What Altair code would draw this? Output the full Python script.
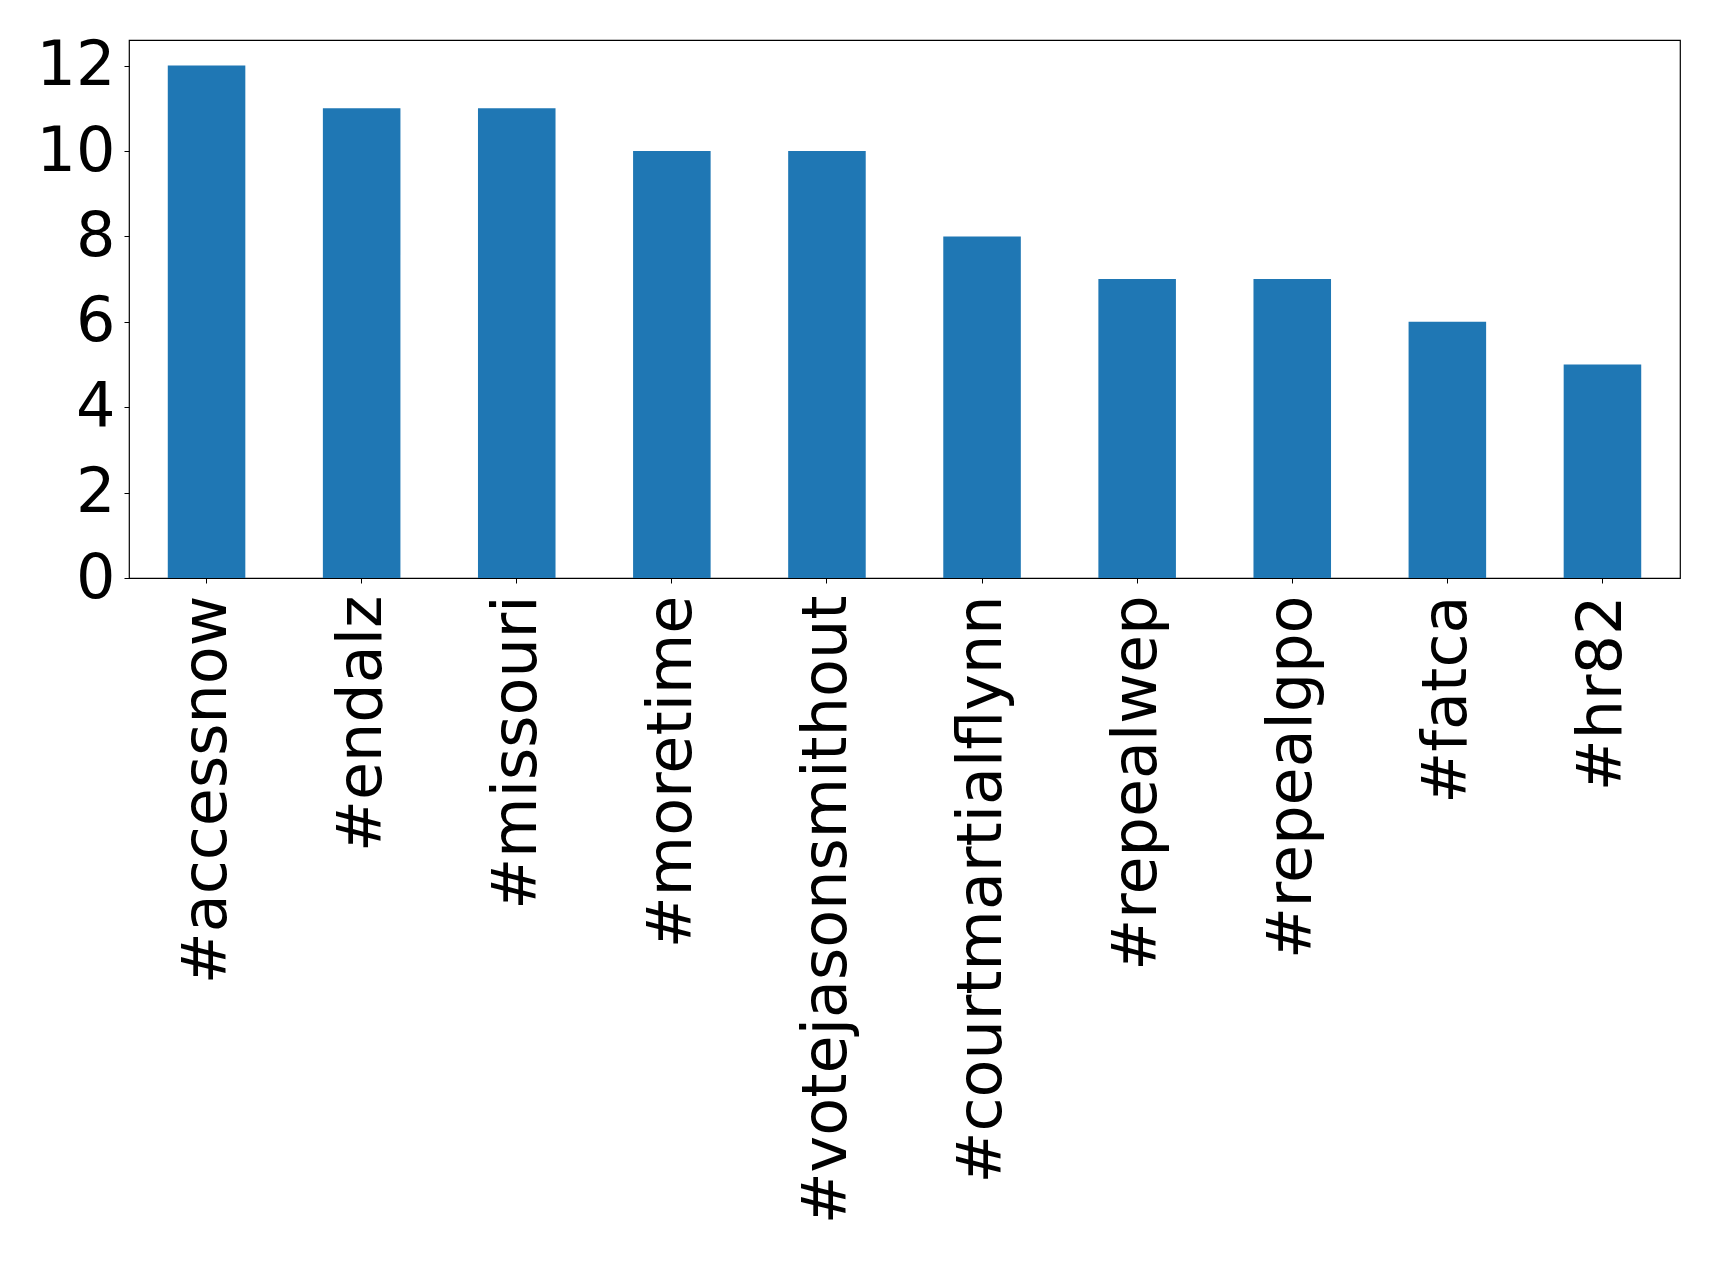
import altair as alt
import pandas as pd

hashtags = ["#accessnow", "#endalz", "#missouri", "#moretime", "#votejasonsmithout",
            "#courtmartialflynn", "#repealwep", "#repealgpo", "#fatca", "#hr82"]
counts = [12, 11, 11, 10, 10, 8, 7, 7, 6, 5]
y_ticks = [0, 2, 4, 6, 8, 10, 12]

df = pd.DataFrame({"tag": hashtags, "count": counts})

chart = alt.Chart(df).mark_bar(color="#1f77b4").encode(
    x=alt.X("tag:N", sort=None, title=None,
            scale=alt.Scale(paddingInner=0.5, paddingOuter=0.25),
            axis=alt.Axis(labelAngle=-90, labelAlign="right", labelBaseline="middle",
                          labelFontSize=62, labelPadding=12, tickSize=5, tickColor="black",
                          domain=False, labelColor="black", labelFont="DejaVu Sans",
                          labelLimit=0, labelOverlap=False)),
    y=alt.Y("count:Q", title=None,
            scale=alt.Scale(domain=[0, 12.6], nice=False),
            axis=alt.Axis(values=y_ticks, labelFontSize=62, labelPadding=9, tickSize=5,
                          tickColor="black", domain=False, grid=False, labelColor="black",
                          labelFont="DejaVu Sans", labelBaseline="middle")),
).properties(
    width=1551, height=538,
    autosize=alt.AutoSizeParams(type="none"),
    padding={"left": 121, "top": 32, "right": 30, "bottom": 660},
).configure_view(
    stroke="black", strokeWidth=1.2
).configure_axis(
    grid=False
)

chart.save("out.html", embed_options={"renderer": "svg", "actions": False})
